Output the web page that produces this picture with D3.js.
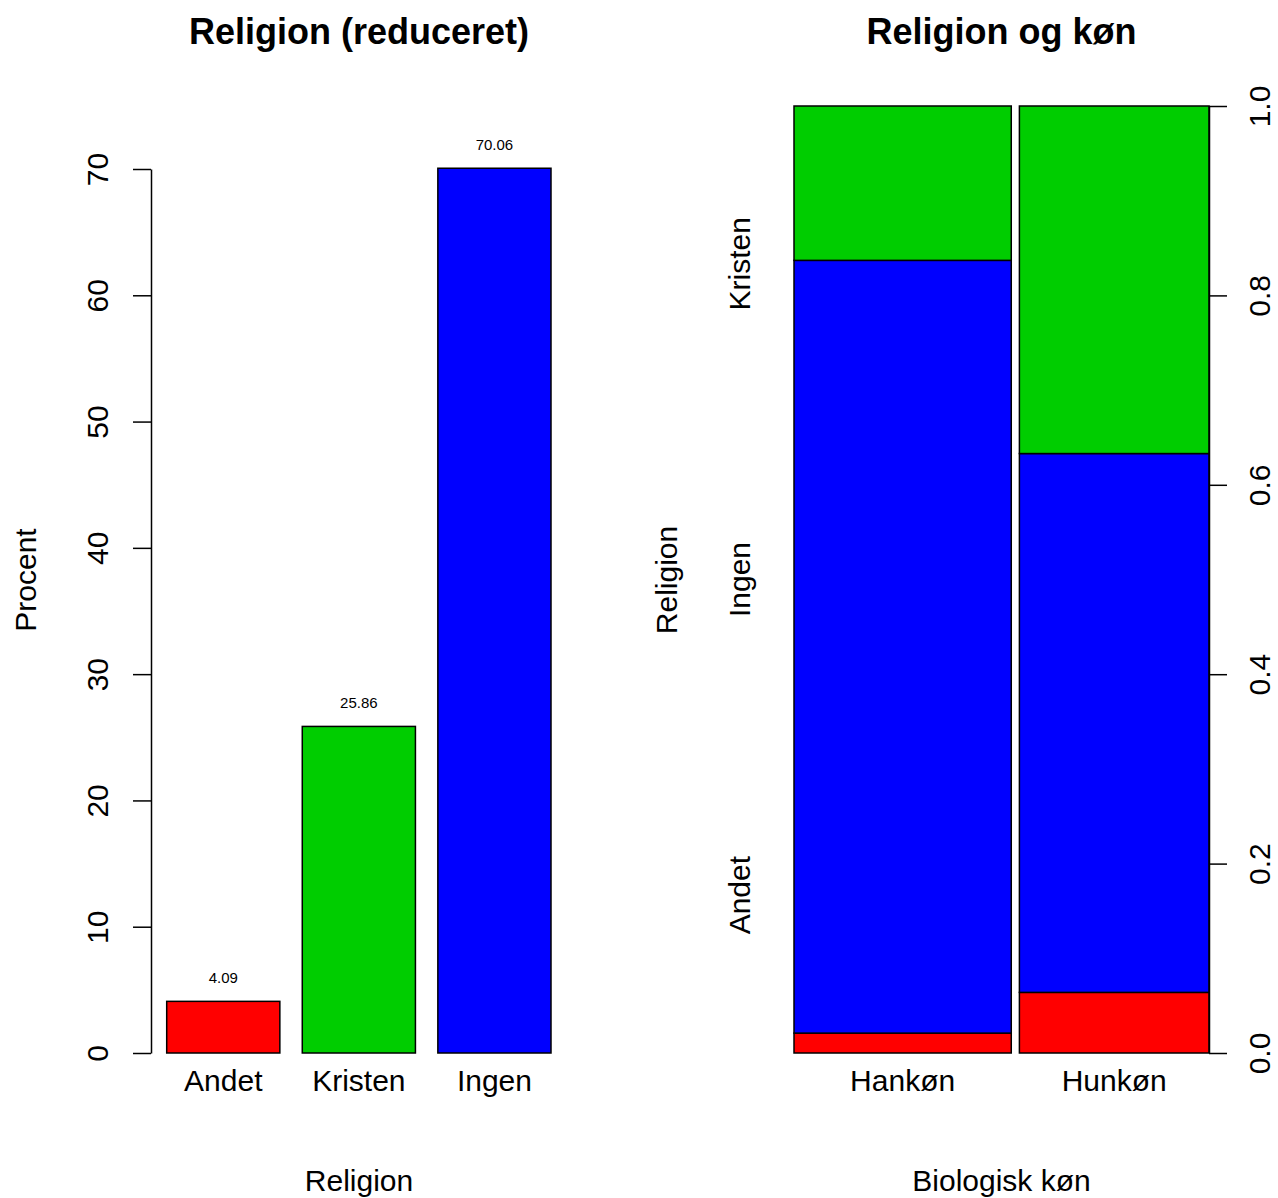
<!DOCTYPE html>
<html>
<head>
<meta charset="utf-8">
<script src="https://cdn.jsdelivr.net/npm/d3@7"></script>
<style>
  html, body { margin: 0; padding: 0; background: #fff; }
  svg { display: block; font-family: "Liberation Sans", Arial, Helvetica, sans-serif; }
</style>
</head>
<body>
<svg id="chart" width="1278" height="1198"></svg>
<script>
// ---- Data ----
const religions = ["Andet", "Kristen", "Ingen"];
const religionPct = [4.09, 25.86, 70.06];
const religionColors = ["#FF0000", "#00CD00", "#0000FF"];
const leftTicks = [0, 10, 20, 30, 40, 50, 60, 70];

const sexes = ["Hankøn", "Hunkøn"];
const sexShare = [0.534, 0.466];
const stackOrder = ["Andet", "Ingen", "Kristen"];
const stackColors = ["#FF0000", "#0000FF", "#00CD00"];
const propAndet = [0.021, 0.064];
const propIngen = [0.816, 0.569];
const propKristen = [0.163, 0.367];
const rightTicks = [0, 0.2, 0.4, 0.6, 0.8, 1.0];
const spineOffset = 0.02;

const svg = d3.select("#chart");
const FS = 30;

// ---- Left panel: bar chart ----
const yL = d3.scaleLinear().domain([0, 70]).range([1053, 169]);
const xL = d3.scaleBand().domain(religions).range([166.7, 551]).paddingInner(0.1654).paddingOuter(0);

const gL = svg.append("g");
gL.selectAll("rect.bar").data(religions).join("rect")
  .attr("class", "bar")
  .attr("x", d => xL(d))
  .attr("width", xL.bandwidth())
  .attr("y", (d, i) => yL(religionPct[i]))
  .attr("height", (d, i) => yL(0) - yL(religionPct[i]))
  .attr("fill", (d, i) => religionColors[i])
  .attr("stroke", "#000").attr("stroke-width", 1.5);

gL.selectAll("text.val").data(religions).join("text")
  .attr("class", "val")
  .attr("x", d => xL(d) + xL.bandwidth() / 2)
  .attr("y", (d, i) => yL(religionPct[i]) - 18)
  .attr("text-anchor", "middle")
  .attr("font-size", 15)
  .text((d, i) => religionPct[i].toFixed(2));

gL.selectAll("text.cat").data(religions).join("text")
  .attr("class", "cat")
  .attr("x", d => xL(d) + xL.bandwidth() / 2)
  .attr("y", 1091)
  .attr("text-anchor", "middle")
  .attr("font-size", FS)
  .text(d => d);

const axL = svg.append("g").attr("transform", "translate(151,0)")
  .call(d3.axisLeft(yL).tickValues(leftTicks).tickSize(18).tickSizeOuter(0).tickFormat(d3.format("d")));
axL.select(".domain").attr("stroke-width", 1.5);
axL.selectAll(".tick line").attr("stroke-width", 1.5);
axL.selectAll(".tick text")
  .attr("font-size", FS).attr("font-family", null)
  .attr("text-anchor", "middle").attr("x", 0).attr("y", -43).attr("dy", null)
  .attr("transform", "rotate(-90)").attr("fill", "#000");

svg.append("text").attr("transform", "translate(36,580) rotate(-90)")
  .attr("text-anchor", "middle").attr("font-size", FS).text("Procent");
svg.append("text").attr("x", 359).attr("y", 1191)
  .attr("text-anchor", "middle").attr("font-size", FS).text("Religion");
svg.append("text").attr("x", 359).attr("y", 44)
  .attr("text-anchor", "middle").attr("font-size", 36).attr("font-weight", "bold")
  .text("Religion (reduceret)");

// ---- Right panel: spineplot ----
const yR = d3.scaleLinear().domain([0, 1]).range([1053, 106]);
const xR = d3.scaleLinear().domain([0, 1 + spineOffset * (sexes.length - 1)]).range([794, 1209]);

const rows = sexes.map((s, i) => ({
  sex: s,
  x0: d3.sum(sexShare.slice(0, i)) + spineOffset * i,
  w: sexShare[i],
  Andet: propAndet[i], Ingen: propIngen[i], Kristen: propKristen[i]
}));
const series = d3.stack().keys(stackOrder)(rows);

const gR = svg.append("g");
series.forEach((s, k) => {
  gR.selectAll("rect.s" + k).data(s).join("rect")
    .attr("class", "s" + k)
    .attr("x", d => xR(d.data.x0))
    .attr("width", d => xR(d.data.x0 + d.data.w) - xR(d.data.x0))
    .attr("y", d => yR(d[1]))
    .attr("height", d => yR(d[0]) - yR(d[1]))
    .attr("fill", stackColors[k])
    .attr("stroke", "#000").attr("stroke-width", 1.5);
});

gR.selectAll("text.sex").data(rows).join("text")
  .attr("class", "sex")
  .attr("x", d => xR(d.x0 + d.w / 2))
  .attr("y", 1091)
  .attr("text-anchor", "middle").attr("font-size", FS)
  .text(d => d.sex);

// left category labels of spineplot
const catPos = d3.scalePoint().domain(stackOrder).range([1 / 6, 5 / 6]);
gR.selectAll("text.ylab").data(stackOrder).join("text")
  .attr("class", "ylab")
  .attr("transform", d => `translate(750,${yR(catPos(d))}) rotate(-90)`)
  .attr("text-anchor", "middle").attr("font-size", FS)
  .text(d => d);

const axR = svg.append("g").attr("transform", "translate(1209,0)")
  .call(d3.axisRight(yR).tickValues(rightTicks).tickSize(18).tickSizeOuter(0).tickFormat(d3.format(".1f")));
axR.select(".domain").attr("stroke-width", 1.5);
axR.selectAll(".tick line").attr("stroke-width", 1.5);
axR.selectAll(".tick text")
  .attr("font-size", FS).attr("font-family", null)
  .attr("text-anchor", "middle").attr("x", 0).attr("y", 61).attr("dy", null)
  .attr("transform", "rotate(-90)").attr("fill", "#000");

svg.append("text").attr("transform", "translate(677,580) rotate(-90)")
  .attr("text-anchor", "middle").attr("font-size", FS).text("Religion");
svg.append("text").attr("x", 1001.5).attr("y", 1191)
  .attr("text-anchor", "middle").attr("font-size", FS).text("Biologisk køn");
svg.append("text").attr("x", 1001.5).attr("y", 44)
  .attr("text-anchor", "middle").attr("font-size", 36).attr("font-weight", "bold")
  .text("Religion og køn");
</script>
</body>
</html>
